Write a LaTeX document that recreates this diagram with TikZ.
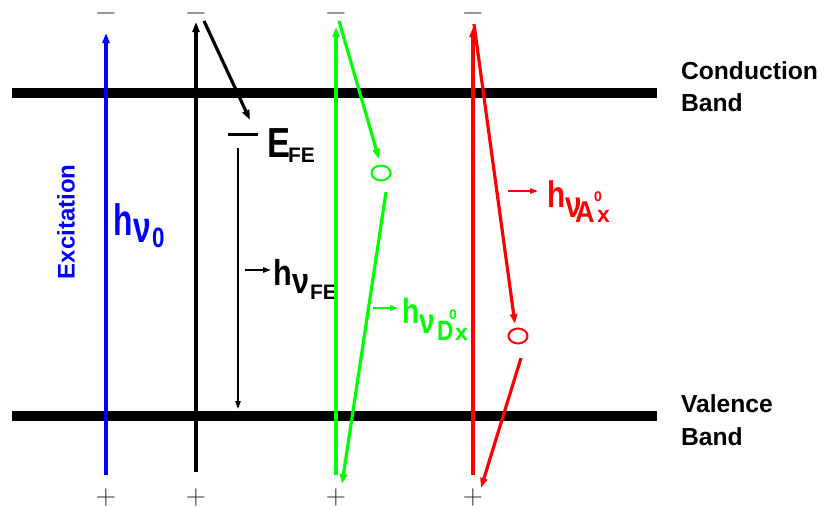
\documentclass[tikz,border=0pt]{standalone}
\usepackage{fontspec}
\setmainfont{Liberation Sans}
\newfontfamily\lmfont{Latin Modern Roman}
\usetikzlibrary{arrows.meta,shapes.geometric}
\definecolor{pblue}{RGB}{0,0,255}
\definecolor{pgreen}{RGB}{0,255,0}
\definecolor{pred}{RGB}{255,0,0}
\definecolor{sign}{RGB}{40,40,40}
\newcommand{\fs}[2]{\fontsize{#1}{#1}\selectfont\scalebox{#2}[1]}
\begin{document}
\begin{tikzpicture}[x=0.75pt,y=-0.75pt,
  band/.style={line width=7.5pt},
  thick line/.style={line width=2.4pt},
  thin line/.style={line width=1.2pt},
  bigtip/.style={-{Triangle[length=7.5pt,width=5.25pt]}},
  smalltip/.style={-{Triangle[length=6pt,width=4pt]}},
  lab/.style={anchor=base west,inner sep=0pt,outer sep=0pt,font=\bfseries},
  sgn/.style={anchor=base,inner sep=0pt,outer sep=0pt,text=sign,text height=2pt,text depth=0pt,font=\lmfont\fontsize{21}{21}\selectfont},
  lvl/.style={draw,ellipse,minimum width=14.25pt,minimum height=11.25pt,inner sep=0pt,line width=1.5pt},
  bandlab/.style={lab,font=\bfseries\fontsize{18.5}{18.5}\selectfont}
]
\useasboundingbox (0,0) rectangle (828,507);

% bands
\coordinate (cbl) at (12,93); \coordinate (cbr) at (657,93);
\coordinate (vbl) at (12,416); \coordinate (vbr) at (657,416);
\draw[band] (cbl) -- (cbr);
\draw[band] (vbl) -- (vbr);

% signs
\foreach \x/\n in {106/1,196/2,336/3,473/4}{
  \node[sgn] (m\n) at (\x,20) {−};
  \node[sgn] (p\n) at (\x,504) {+};
}

% blue excitation
\coordinate (blb) at (106,475); \coordinate (blt) at (106,33);
\draw[pblue,thick line,bigtip] (blb) -- (blt);
\node[rotate=90,text=pblue,font=\bfseries\fontsize{18}{18}\selectfont,inner sep=0pt] (exc) at (66,222) {Excitation};
\node[lab,text=pblue] (h0) at (113,235) {\fs{33}{0.72}{h}};
\node[lab,text=pblue] (n0) at (133,242) {\fs{33}{0.72}{ν}};
\node[lab,text=pblue] (s0) at (152,247) {\fs{21}{0.8}{0}};

% black free exciton
\coordinate (kb) at (196,472); \coordinate (kt) at (196,22);
\draw[black,thick line,bigtip] (kb) -- (kt);
\coordinate (kd0) at (204,21); \coordinate (kd1) at (250,120);
\draw[black,thick line,bigtip] (kd0) -- (kd1);
\coordinate (el0) at (228,134); \coordinate (el1) at (258,134);
\draw[black,line width=2.25pt] (el0) -- (el1);
\node[lab] (E) at (267,157) {\fs{31.5}{0.82}{E}};
\node[lab] (Es) at (288,162) {\fs{15.75}{1}{FE}};
\coordinate (kv0) at (238,148); \coordinate (kv1) at (238,409);
\draw[black,thin line,smalltip] (kv0) -- (kv1);
\coordinate (ka0) at (245,270); \coordinate (ka1) at (271,270);
\draw[black,thin line,smalltip] (ka0) -- (ka1);
\node[lab] (hF) at (273,285) {\fs{27}{0.85}{h}};
\node[lab] (nF) at (292,293) {\fs{27}{0.85}{ν}};
\node[lab] (sF) at (310,299) {\fs{15.75}{1}{FE}};

% green donor
\coordinate (gb) at (336,475); \coordinate (gt) at (336,27);
\draw[pgreen,line width=3pt,bigtip] (gb) -- (gt);
\node[lvl,draw=pgreen] (gc) at (381,173) {};
\coordinate (gd0) at (339,21); \coordinate (gd1) at (379,159);
\draw[pgreen,thick line,bigtip] (gd0) -- (gd1);
\coordinate (gd2) at (386,192); \coordinate (gd3) at (342,484);
\draw[pgreen,thick line,bigtip] (gd2) -- (gd3);
\coordinate (ga0) at (373,308); \coordinate (ga1) at (398,308);
\draw[pgreen,thin line,smalltip] (ga0) -- (ga1);
\node[lab,text=pgreen] (hD) at (402,323) {\fs{26.25}{0.8}{h}};
\node[lab,text=pgreen] (nD) at (419,333) {\fs{26.25}{0.8}{ν}};
\node[lab,text=pgreen] (sD) at (437,340) {\fs{21}{0.8}{D}};
\node[lab,text=pgreen] (uD) at (449,319) {\fs{10.5}{1}{0}};
\node[lab,text=pgreen] (xD) at (455,340) {\fs{17.25}{1}{x}};

% red acceptor
\coordinate (rb) at (473,475); \coordinate (rt) at (473,27);
\draw[pred,line width=3pt,bigtip] (rb) -- (rt);
\node[lvl,draw=pred] (rc) at (518,336) {};
\coordinate (rd0) at (474,24); \coordinate (rd1) at (515,324);
\draw[pred,thick line,bigtip] (rd0) -- (rd1);
\coordinate (rd2) at (521,358); \coordinate (rd3) at (481,488);
\draw[pred,thick line,bigtip] (rd2) -- (rd3);
\coordinate (ra0) at (508,191); \coordinate (ra1) at (538,191);
\draw[pred,thin line,smalltip] (ra0) -- (ra1);
\node[lab,text=pred] (hA) at (547,207) {\fs{27.75}{0.8}{h}};
\node[lab,text=pred] (nA) at (565,217) {\fs{27.75}{0.8}{ν}};
\node[lab,text=pred] (sA) at (575,222) {\fs{22.5}{0.9}{A}};
\node[lab,text=pred] (uA) at (594,201) {\fs{10.5}{1}{0}};
\node[lab,text=pred] (xA) at (597,222) {\fs{17.25}{1}{x}};

% band labels
\node[bandlab] (cb1) at (681,79) {Conduction};
\node[bandlab] (cb2) at (681,111) {Band};
\node[bandlab] (vb1) at (681,412) {Valence};
\node[bandlab] (vb2) at (681,445) {Band};
\end{tikzpicture}
\end{document}
